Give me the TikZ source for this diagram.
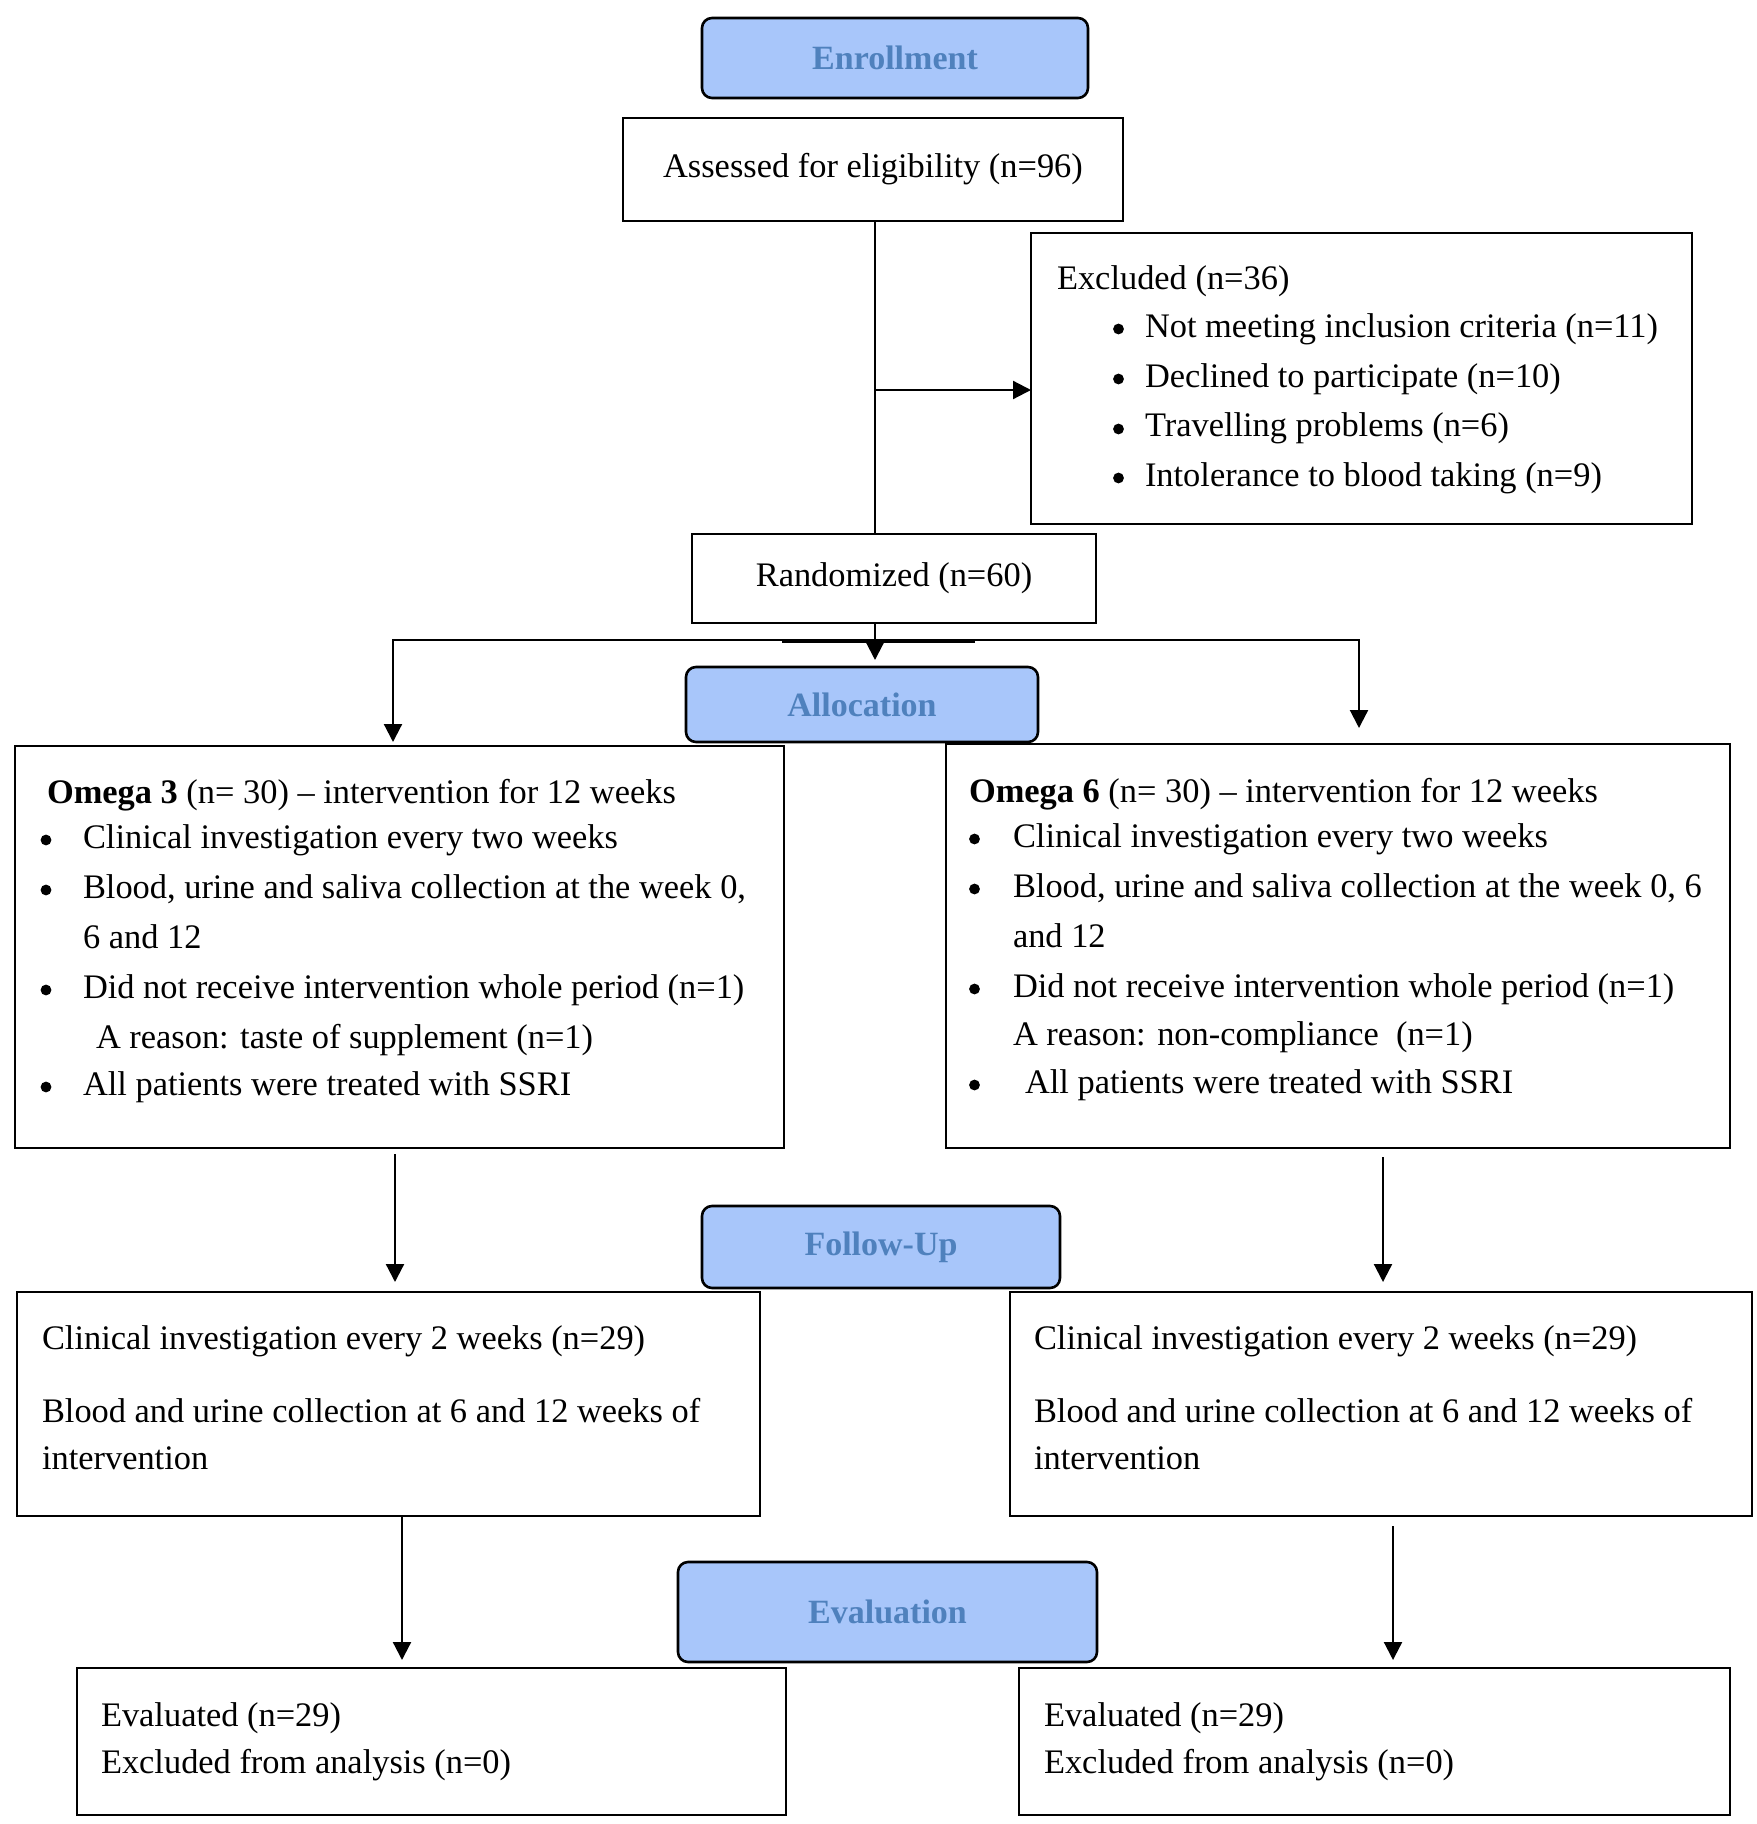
\documentclass[tikz,border=0pt]{standalone}
\usepackage{fontspec}
\setmainfont{Liberation Serif}
\usetikzlibrary{arrows.meta}
\definecolor{hdrfill}{RGB}{168,198,250}
\definecolor{hdrtext}{RGB}{79,129,189}
\begin{document}
\begin{tikzpicture}[x=0.5pt,y=-0.5pt,
  every node/.style={font=\fontsize{17.2}{20}\selectfont},
  box/.style={draw, line width=1pt, inner sep=0pt, outer sep=0pt},
  hdr/.style={draw, line width=1.3pt, rounded corners=5pt, fill=hdrfill, text=hdrtext,
    font=\fontsize{17}{20}\selectfont\bfseries, inner sep=0pt, outer sep=0pt},
  txt/.style={anchor=base west, inner sep=0pt, outer sep=0pt},
  bul/.style={circle, fill=black, inner sep=0pt, outer sep=0pt, minimum size=5.4pt},
  conn/.style={line width=1.1pt},
  arr/.style={-{Triangle[length=9pt,width=9pt]}, line width=1.1pt},
  tip/.style={{Triangle[length=9pt,width=9pt]}-{Triangle[length=9pt,width=9pt]}, line width=1.1pt, line join=miter}
]
\useasboundingbox[fill=white] (0,0) rectangle (1756,1824);

% headers
\node[hdr, minimum width=193pt, minimum height=40pt] (enr) at (895,58) {Enrollment};
\node[hdr, minimum width=176pt, minimum height=37.5pt] (alloc) at (862,704.5) {Allocation};
\node[hdr, minimum width=179pt, minimum height=41pt] (fu) at (881,1247) {Follow-Up};
\node[hdr, minimum width=209.5pt, minimum height=50pt] (ev) at (887.5,1612) {Evaluation};

% boxes
\node[box, minimum width=250pt, minimum height=51.5pt] (assess) at (873,169.5) {Assessed for eligibility (n=96)};
\node[box, minimum width=330.5pt, minimum height=145.5pt] (excl) at (1361.5,378.5) {};
\node[box, minimum width=202pt, minimum height=44.5pt] (rand) at (894,578.5) {Randomized (n=60)};
\node[box, minimum width=384.5pt, minimum height=201pt] (om3) at (399.5,947) {};
\node[box, minimum width=392pt, minimum height=202pt] (om6) at (1338,946) {};
\node[box, minimum width=371.5pt, minimum height=112pt] (fl) at (388.5,1404) {};
\node[box, minimum width=371pt, minimum height=112pt] (fr) at (1381,1404) {};
\node[box, minimum width=354.5pt, minimum height=73.5pt] (el) at (431.5,1741.5) {};
\node[box, minimum width=355.5pt, minimum height=73.5pt] (er) at (1374.5,1741.5) {};

% excluded text
\node[txt] (x0) at (1057,290) {Excluded (n=36)};
\node[bul] (xb1) at (1118.5,329) {};
\node[txt] (x1) at (1145,337) {Not meeting inclusion criteria (n=11)};
\node[bul] (xb2) at (1118.5,379) {};
\node[txt] (x2) at (1145,387) {Declined to participate (n=10)};
\node[bul] (xb3) at (1118.5,429) {};
\node[txt] (x3) at (1145,437) {Travelling problems (n=6)};
\node[bul] (xb4) at (1118.5,478) {};
\node[txt] (x4) at (1145,486) {Intolerance to blood taking (n=9)};

% omega 3 text
\node[txt] (a0) at (47,803) {\textbf{Omega 3} (n= 30) – intervention for 12 weeks};
\node[bul] (ab1) at (46,840) {};
\node[txt] (a1) at (83,848) {Clinical investigation every two weeks};
\node[bul] (ab2) at (46,890) {};
\node[txt] (a2) at (83,898) {Blood, urine and saliva collection at the week 0,};
\node[txt] (a3) at (83,948) {6 and 12};
\node[bul] (ab4) at (46,990) {};
\node[txt] (a4) at (83,998) {Did not receive intervention whole period (n=1)};
\node[txt] (a5) at (96,1048) {A reason: taste of supplement (n=1)};
\node[bul] (ab6) at (46,1087) {};
\node[txt] (a6) at (83,1095) {All patients were treated with SSRI};

% omega 6 text
\node[txt] (c0) at (969,802) {\textbf{Omega 6} (n= 30) – intervention for 12 weeks};
\node[bul] (cb1) at (974.5,839) {};
\node[txt] (c1) at (1013,847) {Clinical investigation every two weeks};
\node[bul] (cb2) at (974.5,889) {};
\node[txt] (c2) at (1013,897) {Blood, urine and saliva collection at the week 0, 6};
\node[txt] (c3) at (1013,947) {and 12};
\node[bul] (cb4) at (974.5,989) {};
\node[txt] (c4) at (1013,997) {Did not receive intervention whole period (n=1)};
\node[txt] (c5) at (1013,1045) {A reason: non-compliance\ \ (n=1)};
\node[bul] (cb6) at (974.5,1085) {};
\node[txt] (c6) at (1025,1093) {All patients were treated with SSRI};

% follow-up text
\node[txt] (f1) at (42,1349) {Clinical investigation every 2 weeks (n=29)};
\node[txt] (f2) at (42,1422) {Blood and urine collection at 6 and 12 weeks of};
\node[txt] (f3) at (42,1469) {intervention};
\node[txt] (g1) at (1034,1349) {Clinical investigation every 2 weeks (n=29)};
\node[txt] (g2) at (1034,1422) {Blood and urine collection at 6 and 12 weeks of};
\node[txt] (g3) at (1034,1469) {intervention};

% evaluation text
\node[txt] (e1) at (101,1726) {Evaluated (n=29)};
\node[txt] (e2) at (101,1773) {Excluded from analysis (n=0)};
\node[txt] (h1) at (1044,1726) {Evaluated (n=29)};
\node[txt] (h2) at (1044,1773) {Excluded from analysis (n=0)};

% connectors
\coordinate (jx) at (875,390);
\draw[conn] (assess.south -| jx) -- (rand.north -| jx);
\draw[arr] (jx) -- (excl.west |- jx);

\coordinate (rtip) at (875,660);
\coordinate (hl) at (393,640);
\coordinate (hr) at (1359,640);
\coordinate (ltip) at (393,742);
\coordinate (rtip2) at (1359,728);
\coordinate (tb1) at (782,641);
\coordinate (tb2) at (975,641);
\draw[arr] (rand.south -| rtip) -- (rtip);
\draw[tip] (ltip) -- (hl) -- (hr) -- (rtip2);
\draw[line width=2.3pt] (tb1) -- (tb2);

\coordinate (a1s) at (395,1154);
\coordinate (a1e) at (395,1282);
\coordinate (a2s) at (1383,1157);
\coordinate (a2e) at (1383,1282);
\draw[arr] (a1s) -- (a1e);
\draw[arr] (a2s) -- (a2e);

\coordinate (b1e) at (402,1660);
\coordinate (b2s) at (1393,1526);
\coordinate (b2e) at (1393,1660);
\draw[arr] (fl.south -| b1e) -- (b1e);
\draw[arr] (b2s) -- (b2e);
\end{tikzpicture}
\end{document}
